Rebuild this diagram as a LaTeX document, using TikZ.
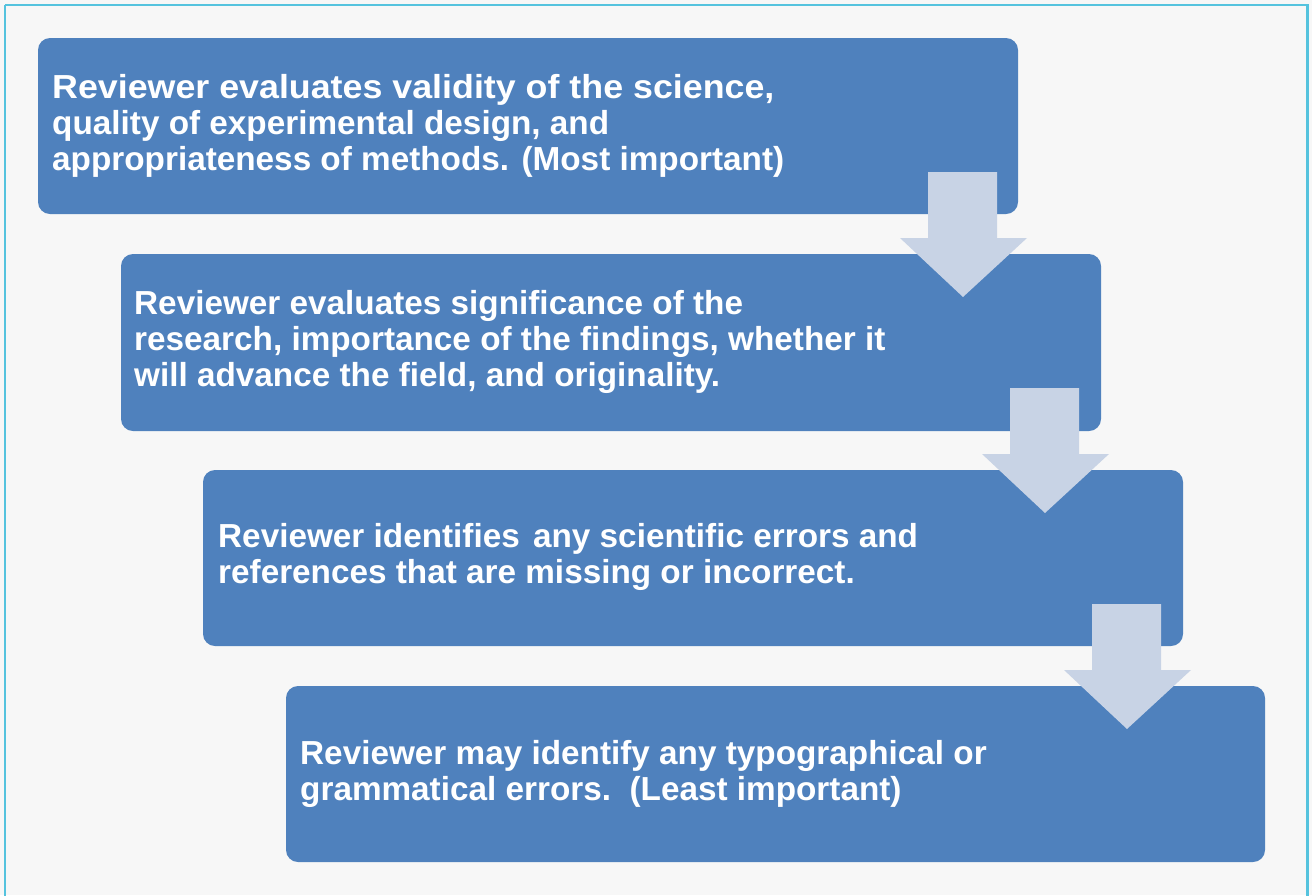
\documentclass[tikz,border=0pt]{standalone}
\usepackage{graphicx}
\usepackage{fontspec}
\setmainfont{Liberation Sans}
\definecolor{boxblue}{HTML}{4F81BD}
\definecolor{bgc}{HTML}{F7F7F7}
\definecolor{framec}{HTML}{55C3DE}
\definecolor{arrowc}{HTML}{C8D3E5}
\begin{document}
\begin{tikzpicture}[x=1pt,y=-1pt,
  stepbox/.style={fill=boxblue, draw=none, rounded corners=12pt},
  steptext/.style={anchor=west, align=left, text=white, inner sep=0pt,
     font=\fontsize{33.3}{36}\selectfont\bfseries},
  downarrow/.style={fill=arrowc, draw=none}]
\useasboundingbox (0,0) rectangle (1312,895);
\fill[bgc] (0,0) rectangle (1312,895);
\draw[framec, line width=2.5pt] (5,5) -- (1307.5,5) -- (1307.5,900) (5,5) -- (5,900);
% boxes
\fill[stepbox] (38,38) rectangle (1018,214);
\fill[stepbox] (121,254) rectangle (1101,431);
\fill[stepbox] (203,470) rectangle (1183,646);
\fill[stepbox] (286,686) rectangle (1265,862);
% arrows
\foreach \dx/\dy in {0/0, 82/216, 164/432} {
  \fill[downarrow, shift={(\dx,\dy)}] (928,172) -- (997,172) -- (997,238) -- (1027,238)
     -- (963,297) -- (900,238) -- (928,238) -- cycle;
}
% texts
\node[steptext] (t1) at (52,126) {\scalebox{1.075}[1]{Reviewer evaluates validity of the science,}\\quality of experimental design, and\\appropriateness of methods. (Most important)};
\node[steptext] (t2) at (134,342) {Reviewer evaluates significance of the\\research, importance of the findings, whether it\\will advance the field, and originality.};
\node[steptext] (t3) at (218,557) {Reviewer identifies\hspace{4pt} any scientific errors and\\references that are missing or incorrect.};
\node[steptext] (t4) at (300,774) {Reviewer may identify any typographical or\\grammatical errors.\ \ (Least important)};
\end{tikzpicture}
\end{document}
